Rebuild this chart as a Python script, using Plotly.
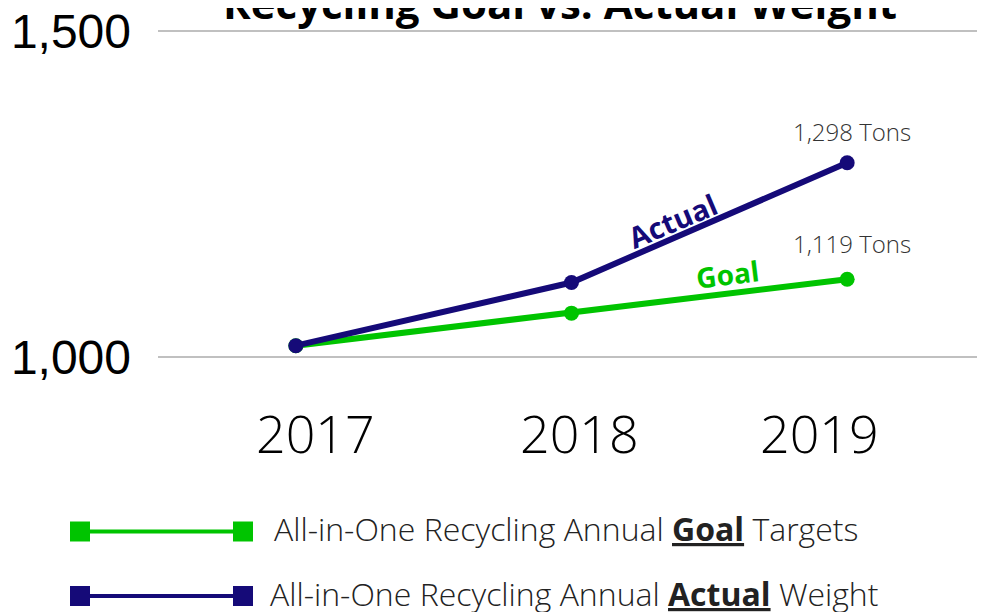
import plotly.graph_objects as go

years = ["2017", "2018", "2019"]
goal = [1017, 1067, 1119]
actual = [1017, 1114, 1298]
unit = "Tons"

GREEN = "#00C400"
NAVY = "#150A78"
LIGHT = "Open Sans"

fig = go.Figure()
fig.add_trace(go.Scatter(
    x=years, y=goal, mode="lines+markers", name="Goal",
    line=dict(color=GREEN, width=6), marker=dict(color=GREEN, size=15),
    cliponaxis=False, showlegend=False))
fig.add_trace(go.Scatter(
    x=years, y=actual, mode="lines+markers", name="Actual",
    line=dict(color=NAVY, width=6), marker=dict(color=NAVY, size=15),
    cliponaxis=False, showlegend=False))

ann = []
last = len(years) - 1
# end-value labels
for series, ys in ((actual, 31), (goal, 36)):
    ann.append(dict(x=last, y=series[last], xref="x", yref="y",
                    text=f"{series[last]:,} {unit}", showarrow=False,
                    xshift=5, yshift=ys, xanchor="center", yanchor="middle",
                    font=dict(family=LIGHT, size=24, color="#333333", weight=300)))

# page offset: the page body adds 8px; coordinates below are in screen pixels
def px2x(px):
    return (px - 158) / 827

def py2y(py):
    return (360 - py) / 332

# year labels
for xpos, yr in zip([0.07, 1.03, 1.9], years):
    ann.append(dict(x=xpos, y=py2y(432), xref="x", yref="paper", text=yr, showarrow=False,
                    font=dict(family=LIGHT, size=52, color="#000000", weight=300),
                    xanchor="center", yanchor="middle"))
# line labels
ann.append(dict(x=1.366, y=1210, xref="x", yref="y", text="<b>Actual</b>", showarrow=False,
                textangle=-23, font=dict(family="Open Sans", size=29, color=NAVY)))
ann.append(dict(x=1.565, y=1127, xref="x", yref="y", text="<b>Goal</b>", showarrow=False,
                textangle=-7, font=dict(family="Open Sans", size=28, color=GREEN)))

# title
ann.append(dict(x=px2x(560), y=1, xref="paper", yref="paper",
                text="<b>Recycling Goal vs. Actual Weight</b>", showarrow=False,
                xanchor="center", yanchor="middle", yshift=26,
                font=dict(family="Open Sans", size=42, color="#000000")))

shapes = []
legend_items = [
    (GREEN, 531.5, 272, "All-in-One Recycling Annual <b><u>Goal</u></b> Targets"),
    (NAVY, 596, 268, "All-in-One Recycling Annual <b><u>Actual</u></b> Weight"),
]
for col, cy, tx, label in legend_items:
    shapes.append(dict(type="line", xref="paper", yref="paper",
                       x0=px2x(80), x1=px2x(243), y0=py2y(cy), y1=py2y(cy),
                       line=dict(color=col, width=4)))
    for sx in (70, 233):
        shapes.append(dict(type="rect", xref="paper", yref="paper",
                           x0=px2x(sx), x1=px2x(sx + 20), y0=py2y(cy - 10), y1=py2y(cy + 10),
                           fillcolor=col, line=dict(width=0)))
    ann.append(dict(x=px2x(tx), y=py2y(cy), xref="paper", yref="paper", text=label,
                    showarrow=False, xanchor="left", yanchor="middle", yshift=3,
                    font=dict(family=LIGHT, size=32, color="#222222", weight=300)))

fig.update_layout(
    width=977, height=604,
    margin=dict(l=150, r=0, t=20, b=252, autoexpand=False),
    paper_bgcolor="white", plot_bgcolor="white",
    xaxis=dict(range=[-0.5, 2.5], showticklabels=False, showgrid=False,
               zeroline=False, showline=False, automargin=False),
    yaxis=dict(range=[995, 1505], tickvals=[1000, 1500], tickformat=",",
               showgrid=True, gridcolor="#C0C0C0", gridwidth=2,
               zeroline=False, showline=False, ticks="", automargin=False,
               ticklabelstandoff=26, ticklabeloverflow="allow",
               tickfont=dict(family="Liberation Sans", size=48, color="#000000")),
    annotations=ann, shapes=shapes,
)

fig.write_html("out.html")
